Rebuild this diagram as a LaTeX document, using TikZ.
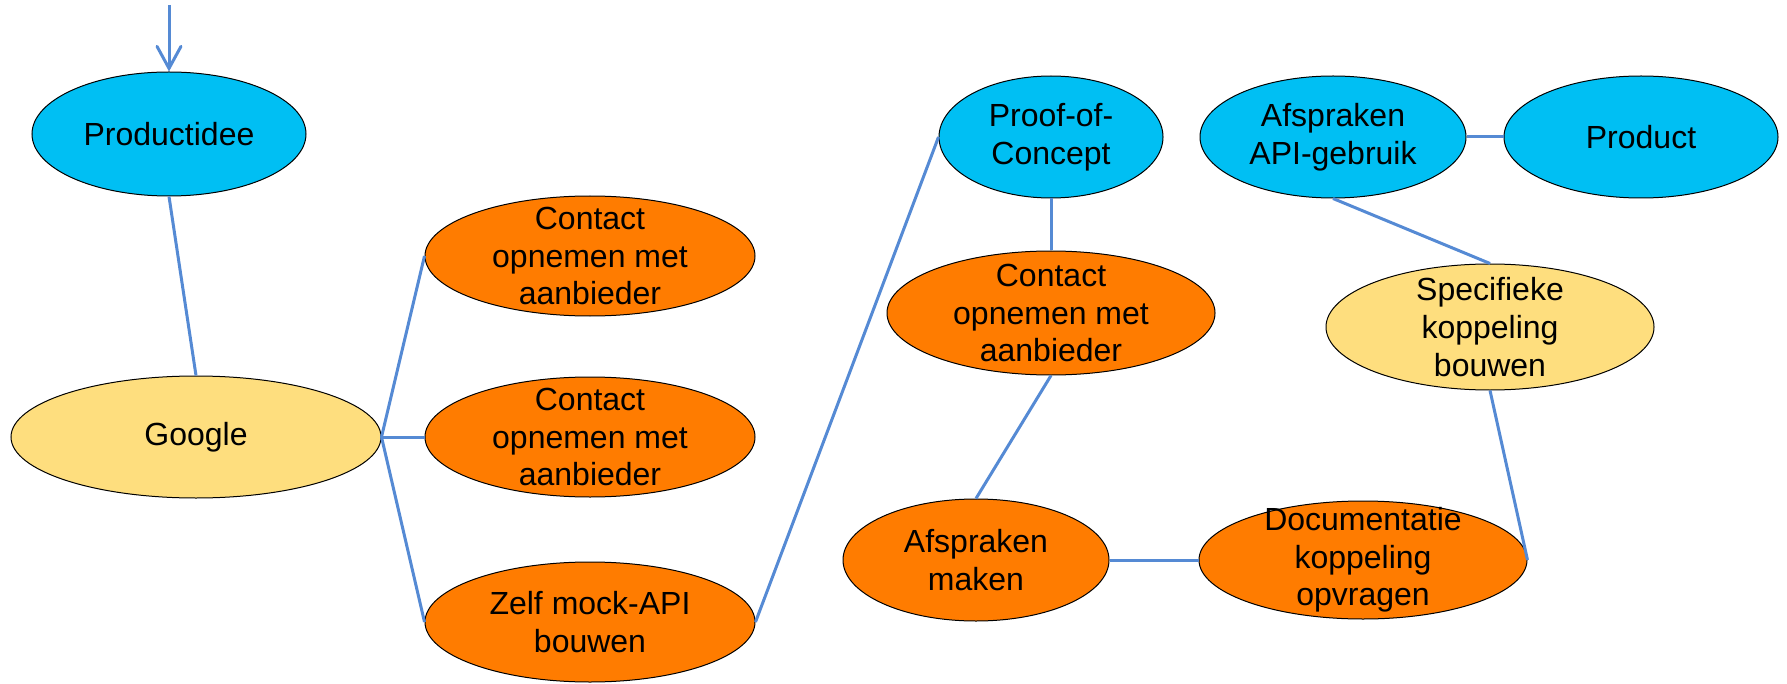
\documentclass[tikz,border=0pt]{standalone}
\usepackage{fontspec}
\setmainfont{Liberation Sans}
\usetikzlibrary{shapes.geometric,arrows.meta}

\definecolor{ideeblue}{RGB}{0,191,243}
\definecolor{steporange}{RGB}{255,124,0}
\definecolor{choiceyellow}{RGB}{254,222,126}
\definecolor{linkblue}{RGB}{85,138,212}

\tikzset{
  bub/.style={ellipse, draw=black, line width=0.5pt, inner sep=0pt},
  txt/.style={align=center, font=\fontsize{16}{18.8}\selectfont, inner sep=0pt},
  link/.style={draw=linkblue, line width=1.5pt},
}

\begin{document}
\begin{tikzpicture}[x=0.5pt, y=-0.5pt, >={Straight Barb[length=11pt,width=12pt,line cap=round]}]
  \useasboundingbox (0,0) rectangle (1787,684);
  %coordinates
  \coordinate (start) at (169,5);
  % Nodes
  \node[bub, fill=ideeblue, minimum width=137pt, minimum height=62pt, label={[txt]center:Productidee}](idee) at (169,134){};
  \node[bub, fill=choiceyellow, minimum width=185pt, minimum height=61pt, label={[txt]center:Google}](google) at (196,437){};
  \node[bub, fill=steporange, minimum width=165pt, minimum height=60pt, label={[txt]center:Contact\\opnemen met\\aanbieder}](contactA) at (590,256){};
  \node[bub, fill=steporange, minimum width=165pt, minimum height=60pt, label={[txt]center:Contact\\opnemen met\\aanbieder}](contactB) at (590,437){};
  \node[bub, fill=steporange, minimum width=165pt, minimum height=60pt, label={[txt]center:Zelf mock-API\\bouwen}](mock) at (590,622){};
  \node[bub, fill=ideeblue, minimum width=112pt, minimum height=61pt, label={[txt]center:Proof-of-\\Concept}](poc) at (1051,137){};
  \node[bub, fill=steporange, minimum width=164pt, minimum height=62pt, label={[txt]center:Contact\\opnemen met\\aanbieder}](contactC) at (1051,313){};
  \node[bub, fill=steporange, minimum width=133pt, minimum height=61pt, label={[txt]center:Afspraken\\maken}](maken) at (976,560){};
  \node[bub, fill=steporange, minimum width=164pt, minimum height=59pt, label={[txt]center:Documentatie\\koppeling\\opvragen}](docu) at (1363,560){};
  \node[bub, fill=choiceyellow, minimum width=164pt, minimum height=63pt, label={[txt]center:Specifieke\\koppeling\\bouwen}](koppel) at (1490,327){};
  \node[bub, fill=ideeblue, minimum width=133pt, minimum height=61pt, label={[txt]center:Afspraken\\API-gebruik}](api) at (1333,137){};
  \node[bub, fill=ideeblue, minimum width=137pt, minimum height=61pt, label={[txt]center:Product}](product) at (1641,137){};
  % Edges
  \draw[link,->](start)--(idee.north);
  \path[link](idee.south)--(google.north);
  \path[link](google.east)--(contactA.west);
  \path[link](google.east)--(contactB.west);
  \path[link](google.east)--(mock.west);
  \path[link](mock.east)--(poc.west);
  \path[link](poc.south)--(contactC.north);
  \path[link](contactC.south)--(maken.north);
  \path[link](maken.east)--(docu.west);
  \path[link](docu.east)--(koppel.south);
  \path[link](koppel.north)--(api.south);
  \path[link](api.east)--(product.west);
\end{tikzpicture}
\end{document}
